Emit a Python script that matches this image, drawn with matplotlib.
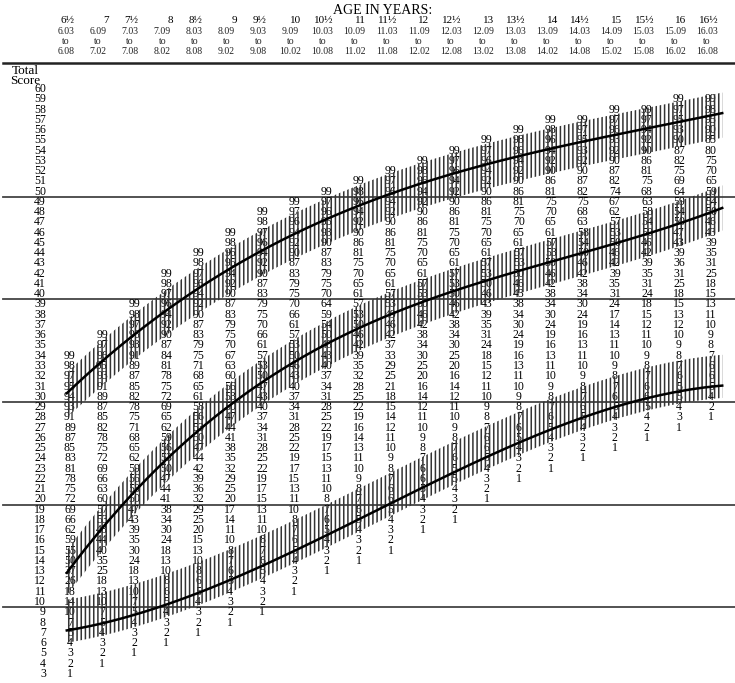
import matplotlib
matplotlib.use("Agg")
import matplotlib.pyplot as plt
import numpy as np

# age groups (columns of the norm table)
ages = ["6½", "7", "7½", "8", "8½", "9", "9½", "10", "10½", "11", "11½",
        "12", "12½", "13", "13½", "14", "14½", "15", "15½", "16", "16½"]
age_from = ["6.03", "6.09", "7.03", "7.09", "8.03", "8.09", "9.03", "9.09",
            "10.03", "10.09", "11.03", "11.09", "12.03", "12.09", "13.03",
            "13.09", "14.03", "14.09", "15.03", "15.09", "16.03"]
age_to = ["6.08", "7.02", "7.08", "8.02", "8.08", "9.02", "9.08", "10.02",
          "10.08", "11.02", "11.08", "12.02", "12.08", "13.02", "13.08",
          "14.02", "14.08", "15.02", "15.08", "16.02", "16.08"]

# highest total score listed in each age column
top_score = [34, 36, 39, 42, 44, 46, 48, 49, 50, 51, 52,
             53, 54, 55, 56, 57, 57, 58, 58, 59, 59]

# percentile ranks, from top_score downwards
p_6h = [99, 98, 97, 95, 94, 93, 91, 89, 87, 85, 83, 81, 78, 75, 72, 69, 66, 62, 59, 55,
        50, 37, 26, 18, 14, 10, 7, 5, 4, 3, 2, 1]
p_7 = [99, 97, 96, 95, 93, 91, 89, 87, 85, 82, 78, 75, 72, 69, 66, 63, 60, 57, 53, 48,
       44, 40, 35, 25, 18, 13, 10, 7, 5, 4, 3, 2, 1]
p_7h = [99, 98, 97, 96, 93, 91, 89, 87, 85, 82, 78, 75, 71, 68, 65, 62, 59, 56, 53, 50,
        47, 43, 39, 35, 30, 24, 18, 13, 10, 7, 5, 4, 3, 2, 1]
p_8 = [99, 98, 97, 96, 94, 92, 90, 87, 84, 81, 78, 75, 72, 69, 65, 62, 59, 56, 53, 50,
       47, 44, 41, 38, 34, 30, 24, 18, 13, 10, 8, 6, 5, 4, 3, 2, 1]
p_8h = [99, 98, 97, 96, 94, 92, 90, 87, 83, 79, 75, 71, 68, 65, 61, 58, 56, 53, 50, 47,
        44, 42, 39, 36, 32, 29, 25, 20, 15, 13, 10, 8, 6, 5, 4, 3, 2, 1]
p_9 = [99, 98, 96, 95, 94, 92, 90, 87, 83, 79, 75, 70, 67, 63, 60, 56, 53, 50, 47, 44,
       41, 38, 35, 32, 29, 25, 20, 17, 14, 11, 10, 8, 7, 6, 5, 4, 3, 2, 1]
p_9h = [99, 98, 97, 96, 94, 92, 90, 87, 83, 79, 75, 70, 66, 61, 57, 53, 50, 47, 43, 40,
        37, 34, 31, 28, 25, 22, 19, 17, 15, 13, 11, 10, 8, 7, 6, 5, 4, 3, 2, 1]
p_10 = [99, 97, 96, 94, 92, 90, 87, 83, 79, 75, 70, 66, 61, 57, 53, 50, 46, 43, 40, 37,
        34, 31, 28, 25, 22, 19, 17, 15, 13, 11, 10, 8, 7, 6, 5, 4, 3, 2, 1]
p_10h = [99, 97, 96, 95, 93, 90, 87, 83, 79, 75, 70, 64, 59, 54, 50, 46, 43, 40, 37, 34,
         31, 28, 25, 22, 19, 17, 15, 13, 11, 10, 8, 7, 6, 5, 4, 3, 2, 1]
p_11 = [99, 98, 96, 94, 92, 90, 86, 81, 75, 70, 65, 61, 57, 53, 50, 46, 42, 39, 35, 32,
        28, 25, 22, 19, 16, 14, 13, 11, 10, 9, 8, 7, 6, 5, 4, 3, 2, 1]
p_11h = [99, 97, 96, 94, 92, 90, 86, 81, 75, 70, 65, 61, 57, 53, 49, 46, 42, 37, 33, 29,
         25, 21, 18, 15, 14, 12, 11, 10, 9, 8, 7, 6, 6, 5, 4, 3, 2, 1]
p_12 = [99, 98, 96, 94, 92, 90, 86, 81, 75, 70, 65, 61, 57, 53, 50, 46, 42, 38, 34, 30,
        25, 20, 16, 14, 12, 11, 10, 9, 8, 7, 6, 6, 5, 4, 3, 2, 1]
p_12h = [99, 97, 96, 94, 92, 90, 86, 81, 75, 70, 65, 61, 57, 53, 50, 46, 42, 38, 34, 30,
         25, 20, 16, 14, 12, 11, 10, 9, 8, 7, 6, 5, 5, 4, 3, 2, 1]
p_13 = [99, 97, 96, 94, 92, 90, 86, 81, 75, 70, 65, 61, 57, 53, 50, 46, 43, 39, 35, 31,
        24, 18, 15, 12, 11, 10, 9, 8, 7, 6, 6, 5, 4, 3, 2, 1]
p_13h = [99, 98, 96, 94, 92, 90, 86, 81, 75, 70, 65, 61, 57, 53, 50, 46, 43, 38, 34, 30,
         24, 19, 16, 13, 11, 10, 9, 8, 7, 6, 5, 4, 3, 2, 1]
p_14 = [99, 98, 96, 94, 92, 90, 86, 81, 75, 70, 65, 61, 57, 53, 50, 46, 42, 38, 34, 30,
        24, 19, 16, 13, 11, 10, 9, 8, 7, 6, 5, 4, 3, 2, 1]
p_14h = [99, 97, 95, 93, 92, 90, 87, 82, 75, 68, 63, 58, 54, 50, 46, 42, 38, 34, 30, 24,
         19, 16, 13, 11, 10, 9, 8, 7, 6, 5, 4, 3, 2, 1]
p_15 = [99, 97, 96, 93, 92, 90, 87, 82, 74, 67, 62, 57, 53, 50, 46, 42, 39, 35, 31, 24,
        17, 14, 13, 11, 10, 9, 8, 7, 6, 5, 4, 3, 2, 1]
p_15h = [99, 97, 94, 92, 90, 86, 81, 75, 68, 63, 58, 54, 50, 46, 42, 39, 35, 31, 24, 18,
         15, 12, 11, 10, 9, 8, 7, 6, 6, 5, 4, 2, 1]
p_16 = [99, 97, 95, 93, 90, 87, 82, 75, 69, 64, 59, 54, 50, 47, 43, 39, 36, 31, 25, 18,
        15, 13, 12, 10, 9, 8, 7, 6, 5, 5, 4, 3, 1]
p_16h = [99, 98, 95, 90, 85, 80, 75, 70, 65, 59, 54, 50, 46, 43, 39, 35, 31, 25, 18, 15,
         13, 11, 10, 9, 8, 7, 6, 6, 5, 4, 2, 1]

columns = [p_6h, p_7, p_7h, p_8, p_8h, p_9, p_9h, p_10, p_10h, p_11, p_11h,
           p_12, p_12h, p_13, p_13h, p_14, p_14h, p_15, p_15h, p_16, p_16h]

# percentile curves drawn across the table, with the hatched band around each
curve_levels = [95, 50, 5]
band_extent = [(2.4, 2.0), (2.2, 2.2), (1.2, 3.0)]  # (below, above) in score units

SERIF = ["Liberation Serif", "DejaVu Serif"]

fig = plt.figure(figsize=(7.35, 6.83), dpi=100)
ax = fig.add_axes([0, 0, 1, 1])
ax.set_xlim(-2.184, 20.749)
ax.set_ylim(2.105, 68.674)
ax.axis("off")


def sy(px):
    # vertical pixel position -> score units
    return 60 - (px - 89) / 10.26


# header
ax.text(9.77, sy(11), "AGE IN YEARS:", ha="center", va="center",
        family=SERIF, fontsize=10)
for i, lab in enumerate(ages):
    if "½" in lab:
        ax.text(i - 0.08, sy(21), lab, ha="center", va="center",
                family=SERIF, fontsize=8)
    else:
        ax.text(i + 0.22, sy(21), lab, ha="right", va="center",
                family=SERIF, fontsize=8)
    ax.text(i - 0.12, sy(32), age_from[i], ha="center", va="center",
            family=SERIF, fontsize=7, color="#222")
    ax.text(i - 0.12, sy(42), "to", ha="center", va="center",
            family=SERIF, fontsize=7, color="#222")
    ax.text(i - 0.12, sy(52), age_to[i], ha="center", va="center",
            family=SERIF, fontsize=7, color="#222")

ax.plot([-2.09, 20.75], [sy(63), sy(63)], color="#222", lw=1.8)

ax.text(-1.81, sy(71), "Total", ha="left", va="center", family=SERIF, fontsize=9.5)
ax.text(-1.87, sy(81), "Score", ha="left", va="center", family=SERIF, fontsize=9.5)

scores = np.arange(60, 2, -1)
for s in scores:
    ax.text(-0.75, s, str(s), ha="right", va="center", family=SERIF, fontsize=8.5)

for yl in [49.5, 39.5, 29.5, 19.5, 9.5]:
    ax.plot([-2.09, 20.75], [yl, yl], color="#444", lw=1.3)

# table body
for i, (top, vals) in enumerate(zip(top_score, columns)):
    for k, v in enumerate(vals):
        ax.text(i, top - k, str(v), ha="center", va="center",
                family=SERIF, fontsize=8.5, zorder=3)

# smoothed percentile curves: interpolate the score at each level per column
col_idx = np.arange(len(columns))
xs = np.linspace(-0.1, 20.35, 300)
plt.rcParams["hatch.color"] = "#333333"
plt.rcParams["hatch.linewidth"] = 1.1
for level, (below, above) in zip(curve_levels, band_extent):
    at_level = []
    for top, vals in zip(top_score, columns):
        sc = top - np.arange(len(vals))
        at_level.append(np.interp(level, np.array(vals)[::-1], sc[::-1]))
    coef = np.polyfit(col_idx, at_level, 3)
    ys = np.polyval(coef, xs)
    ax.fill_between(xs, ys - below, ys + above, facecolor="none",
                    edgecolor="#333333", hatch="||||", linewidth=0, zorder=4)
    ax.plot(xs, ys, color="black", lw=1.8, zorder=5)

fig.savefig("out.png", dpi=100)
